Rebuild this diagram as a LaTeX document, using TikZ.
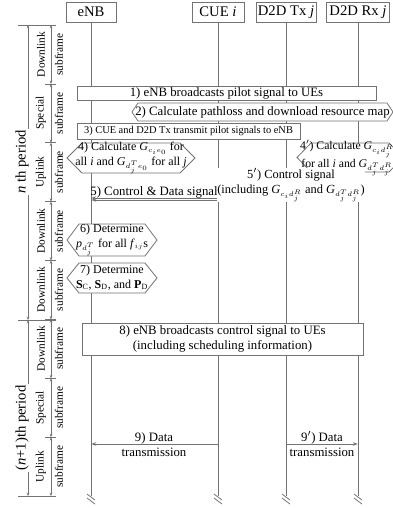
\documentclass[tikz,border=0pt]{standalone}
\usepackage{fontspec}
\setmainfont{Liberation Serif}
\usetikzlibrary{arrows.meta,calc}
\newcommand\hexa[7]{%
  \draw[ln,fill=white] (#2,{(#4+#5)/2}) -- (#2+#6,#4) -- (#3-#6,#4) -- (#3,{(#4+#5)/2}) -- (#3-#6,#5) -- (#2+#6,#5) -- cycle;
  \node[htxt] (#1) at ({(#2+#3)/2},{(#4+#5)/2}) {#7};}
\newcommand\Gsub[1]{\textit{G}$_{\scriptscriptstyle #1}$}
\begin{document}
\begin{tikzpicture}[x=0.75pt,y=-0.75pt,
  ln/.style={draw=black!55, line width=0.6pt},
  hdr/.style={ln, fill=white, font=\fontsize{11}{13}\selectfont, minimum height=15pt, inner sep=1pt},
  msg/.style={ln, fill=white, font=\fontsize{9.6}{11.6}\selectfont, inner sep=0pt, align=center},
  txt/.style={font=\fontsize{9.6}{11.6}\selectfont, inner sep=0pt, align=center},
  htxt/.style={font=\fontsize{9}{11}\selectfont, inner sep=0pt, align=center},
  arr/.style={ln, -{Stealth[length=4pt,width=2.6pt]}},
  sub/.style={font=\fontsize{8.5}{10}\selectfont, rotate=90, inner sep=0pt},
  per/.style={font=\fontsize{11}{13}\selectfont, rotate=90, fill=white, inner sep=1pt},
  dim/.style={ln, line width=0.5pt, {Stealth[length=2.5pt,width=2pt]}-{Stealth[length=2.5pt,width=2pt]}},
]
\useasboundingbox (0,0) rectangle (393,508);
\clip (0,0) rectangle (393,508);

% ---- left time axis ----
\draw[dim] (28,25) -- (28,320);
\draw[dim] (28,320) -- (28,496);
\foreach \yy in {25,320,496} \draw[ln,line width=0.5pt] (18,\yy) -- (56,\yy);
\foreach \k in {0,...,7} {
  \pgfmathsetmacro\ya{25+\k*58.875}
  \pgfmathsetmacro\yb{25+(\k+1)*58.875}
  \draw[dim] (51,\ya) -- (51,\yb);
  \draw[ln,line width=0.5pt] (45,\yb) -- (56,\yb);
}
\foreach \k/\nm in {0/Downlink,1/Special,2/Uplink,3/Downlink,4/Downlink,5/Downlink,6/Special,7/Uplink} {
  \pgfmathsetmacro\yc{25+(\k+0.5)*58.875}
  \node[sub] (s\k a) at (41,\yc) {\nm};
  \node[sub] (s\k b) at (59,\yc) {subframe};
}
\node[per] (p1) at (22,162) {\textit{n} th period};
\node[per] (p2) at (22,428) {(\textit{n}+1)th period};

% ---- actors and lifelines ----
\coordinate (bot) at (0,496);
\foreach \n/\xx/\w/\t in {enb/91/37.5pt/eNB, cue/218/39pt/CUE \textit{i}, tx/286/45pt/D2D Tx \textit{j}, rx/358/47.25pt/D2D Rx \textit{j}} {
  \node[hdr, minimum width=\w] (\n) at (\xx,12) {\t};
  \coordinate (\n-b) at (\n.south |- bot);
  \draw[ln] (\n.south) -- (\n-b);
  \draw[ln] ($(\n-b)+(-4,-2)$) -- ($(\n-b)+(4,4)$);
  \draw[ln] ($(\n-b)+(-4,2)$) -- ($(\n-b)+(4,8)$);
}

% ---- messages ----
\node[msg, minimum width=224.25pt, minimum height=10.5pt] (m1) at (226.5,93) {1) eNB broadcasts pilot signal to UEs};
\hexa{m2}{132}{393}{103}{121}{6}{\fontsize{9.6}{11}\selectfont 2) Calculate pathloss and download resource map}
\node[msg, font=\fontsize{7.8}{10}\selectfont, minimum width=167.25pt, minimum height=12pt] (m3) at (188.5,131) {3) CUE and D2D Tx transmit pilot signals to eNB};
\hexa{m4}{67}{195}{143}{173}{15}{4) Calculate \Gsub{c_ie_0} for\\ all \textit{i} and \Gsub{d_j^Te_0} for all \textit{j}}
\hexa{m4p}{297}{403}{143}{172}{14}{}
\node[htxt, font=\fontsize{8.8}{11}\selectfont] (m4pt) at (347,157.5) {4$'$) Calculate \Gsub{c_id_j^R}\\ for all \textit{i} and \Gsub{d_j^Td_j^R}};

\coordinate (c5) at (218,198);
\draw[arr] (c5) -- (c5 -| enb.south);
\node[txt, anchor=base] (l5) at (154,195) {5) Control \& Data signal};
\coordinate (r5) at (358,200);
\draw[arr] (r5) -- (r5 -| enb.south);
\node[txt, fill=white, inner sep=0.3pt, font=\fontsize{9.3}{11.4}\selectfont] (l5p) at (291,185) {5$'$) Control signal\\(including \Gsub{c_id_j^R} and \Gsub{d_j^Td_j^R})};

\hexa{m6}{67}{157}{224}{256}{12}{6) Determine\\ \textit{p}$_{\scriptscriptstyle d_j^T}$ for all \textit{f}$_{\scriptscriptstyle ij}$s}
\hexa{m7}{67}{157}{263}{293}{12}{7) Determine\\ \textbf{S}\textsubscript{C}, \textbf{S}\textsubscript{D}, and \textbf{P}\textsubscript{D}}

\node[msg, minimum width=210.75pt, minimum height=24pt] (m8) at (222.5,339) {8) eNB broadcasts control signal to UEs\\(including scheduling information)};

\coordinate (c9) at (218,444);
\draw[arr] (c9) -- (c9 -| enb.south);
\node[txt, anchor=base] (l9a) at (154,441) {9) Data};
\node[txt, anchor=base] (l9b) at (154,456) {transmission};
\coordinate (t9) at (286,444);
\draw[arr] (t9) -- (t9 -| rx.south);
\node[txt, anchor=base] (l9pa) at (322,441) {9$'$) Data};
\node[txt, anchor=base] (l9pb) at (322,456) {transmission};
\end{tikzpicture}
\end{document}
